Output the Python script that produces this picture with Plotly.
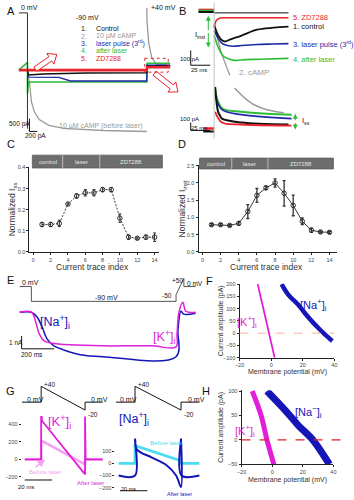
import plotly.graph_objects as go

W, H = 354, 500
FONT = "Liberation Sans, Arial, sans-serif"

BLACK = '#111111'; GRAY = '#9a9a9a'; BLUE = '#1f2aa6'; GREEN = '#2dbb3a'; RED = '#e8232b'
MAG = '#e21fd8'; PINK = '#f5a0ee'; CYAN = '#4adcf0'; NAVY = '#1616b8'; DGRAY = '#333333'

# ---------------- Panel A (time ms, current pA, voltage mV) ----------------
a_t_ctrl = [-225, 0, 25, 400, 1500, 3050, 3060, 3650]
a_i_ctrl = [0, 0, -190, -150, -110, -100, 155, 155]
a_t_laser = [-225, 0, 25, 800, 1100, 3050, 3060, 3650]
a_i_laser = [0, 0, -270, -280, -420, -420, 190, 190]
a_t_after = [-225, 0, 0, 25, 3050, 3060, 3650]
a_i_after = [0, 300, -920, -460, -460, 270, 270]
a_t_zd = [-225, 0, 25, 3050, 3060, 3650]
a_i_zd = [0, 0, 0, 0, 115, 115]
a_t_camp = [0, 50, 100, 175, 300, 550, 925, 1925, 3050, None, 3050, 3060, 3100, 3175, 3300, 3550, 3650]
a_i_camp = [-200, -460, -1230, -1620, -1925, -2150, -2270, -2350, -2390, None, 2500, 1850, 1080, 500, 230, 190, 190]
a_v_t = [-225, 0, 0]
a_v_mv = [0, 0, -90]

# ---------------- Panel B (time ms, current pA) ----------------
b_t_zd = [0, 3, 8, 20, 40, 60, 95]
b_i_zd = [-100, -50, -35, -33, -33, -33, -33]
b_t_ctrl = [0, 5, 10, 14, 20, 35, 55, 76, 95]
b_i_ctrl = [-80, -150, -185, -193, -180, -153, -113, -100, -93]
b_t_laser = [0, 5, 10, 17, 25, 35, 55, 76, 95]
b_i_laser = [-120, -170, -205, -220, -225, -220, -213, -210, -207]
b_t_after = [0, 5, 10, 14, 26, 40, 60, 95]
b_i_after = [-153, -230, -280, -300, -320, -315, -313, -307]
b_t_camp = [0, 5, 9, 16, 20]
b_i_camp = [-87, -180, -267, -367, -420]
b_t_pre = [-20, 0]
b_i_pre_zd, b_i_pre_after, b_i_pre_ctrl = [20, 20], [13, 13], [6, 6]
b_t_zero = [0, 95]
b_i_zero = [0, 0]

b2_t_ctrl = [1.25, 5, 7.5, 10, 35, 95]
b2_i_ctrl = [525, 212, 162, 125, 75, 50]
b2_t_after = [1.25, 5, 11, 35, 67.5, 99]
b2_i_after = [500, 337, 250, 212, 187, 175]
b2_t_laser = [1.25, 10, 35, 99]
b2_i_laser = [425, 237, 175, 125]
b2_t_zd = [1.25, 10, 35, 99]
b2_i_zd = [212, 75, 50, 37]
b2_t_camp = [26, 39, 51, 67.5, 80, 89]
b2_i_camp = [512, 387, 300, 237, 212, 200]
b2_t_pre = [-14, 0]
b2_i_pre_zd, b2_i_pre_ctrl = [0, 0], [-37, -37]

# ---------------- Panel C / D ----------------
trace_index = list(range(1, 15))
c_norm = [0.13, 0.13, 0.135, 0.227, 0.265, 0.28, 0.28, 0.295, 0.295, 0.16, 0.07, 0.065, 0.07, 0.07]
c_err = [0.01, 0.01, 0.015, 0.005, 0.01, 0.015, 0.015, 0.01, 0.01, 0.02, 0.01, 0.005, 0.01, 0.02]
d_norm = [0.79, 0.79, 0.77, 0.83, 1.17, 1.64, 1.86, 2.0, 1.70, 1.35, 0.89, 0.63, 0.58, 0.57]
d_err = [0.03, 0.03, 0.03, 0.05, 0.2, 0.2, 0.05, 0.12, 0.37, 0.3, 0.1, 0.06, 0.03, 0.03]
c_ticks_y = [0.0, 0.1, 0.2, 0.3, 0.4]
d_ticks_y = [0.0, 0.5, 1.0, 1.5, 2.0, 2.5]
idx_ticks = [0, 2, 4, 6, 8, 10, 12, 14]
phase_labels = ["control", "laser", "ZD7288"]

# ---------------- Panel E ----------------
e_t_k = [-72, 0, 30, 48, 78, 120, 240, 438, 738, 888, 894, 906, 930, 948, 1008]
e_i_k = [0, 0, -920, -1690, -2230, -2390, -2540, -2620, -2620, -2700, -1700, 0, 770, 80, 0]
e_t_na = [-72, 0, 36, 66, 96, 138, 198, 300, 438, 888, 900, 918, 936, 1008]
e_i_na = [0, 0, -385, -1155, -2080, -2620, -2930, -3310, -3465, -3465, -1310, 80, -150, -80]
e_v_t = [-72, 0, 0, 888, 888, 936, 936, 1008]
e_v_mv = [0, 0, -90, -90, -50, 50, 0, 0]

# ---------------- Panel F / H (I-V) ----------------
f_k_mv = [-8.5, -6, -3, 0, 2.2]
f_k_pa = [200, 130, 46, -38, -100]
f_na_mv = [6.6, 10.9, 17.1, 21.5, 26.4, 30, 33.8, 38.7]
f_na_pa = [200, 156, 116, 80, 44, 20, -4, -32]
f_ticks_y = [-100, -50, 0, 50, 100, 150, 200]
h_k_mv = [-13, -7.2, -3.4, 1.1]
h_k_pa = [100, 50, 0, -50]
h_na_mv = [-3.4, 8.7, 17, 26.6, 37.4]
h_na_pa = [100, 60, 30, 0, -50]
h_ticks_y = [-50, 0, 50, 100]
mv_ticks = [-20, 0, 20, 40]

# ---------------- Panel G (ramps) ----------------
gl_t_after = [-12, 0, 0, 0.7, 32.1, 32.1, 32.5, 45]
gl_i_after = [0, 0, 560, 440, -170, 490, 0, 0]
gl_t_before = [-12, 0, 0, 4.3, 32.1, 32.1, 45]
gl_i_before = [0, 0, 215, 180, -56, 0, 0]
gl_v_t = [-14, 0, 0, 32.1, 32.1, 45]
gl_v_mv = [0, 0, 40, -20, 0, 0]
gl_ticks = [-200, 0, 200, 400]
gr_t_before = [-12, 0, 0, 32.9, 32.9, 47]
gr_i_before = [0, 0, 146, 24, 0, 0]
gr_t_after = [-12, 0, 0, 1.4, 12, 23, 30, 33.6, 33.6, 34, 47]
gr_i_after = [-100, -100, 200, 114, 50, -15, -100, -195, 200, -100, -100]
gr_v_t = [-14, 0, 0, 33.6, 33.6, 47]
gr_v_mv = [0, 0, 40, -20, 0, 0]
gr_ticks = [-200, -100, 0, 100]

# ---------------- subplot geometry (pixel boxes) ----------------
SPEC = {
    1: dict(x=(14, 175), xr=(-225, 3800), y=(5, 135), yr=(-2580, 2425)),
    2: dict(x=(14, 175), xr=(-225, 3800), y=(5, 135), yr=(-96, 3.85)),
    3: dict(x=(175, 354), xr=(-48.75, 175), y=(0, 78), yr=(-453, 66.7)),
    4: dict(x=(175, 354), xr=(-48.75, 175), y=(80, 137), yr=(-125, 587.5)),
    5: dict(x=(25, 158), xr=(-0.45, 14.56), y=(166, 252), yr=(0, 0.402)),
    6: dict(x=(198, 340), xr=(-0.43, 14.86), y=(164, 252), yr=(0, 2.52)),
    7: dict(x=(0, 200), xr=(-162, 1038), y=(268, 365), yr=(-4004, 3465)),
    8: dict(x=(0, 200), xr=(-162, 1038), y=(268, 310), yr=(-138, 114)),
    9: dict(x=(240, 337), xr=(-20, 40), y=(284, 359), yr=(-100, 202)),
    10: dict(x=(17, 105), xr=(-14.3, 48.6), y=(418, 485), yr=(-260, 497)),
    11: dict(x=(17, 105), xr=(-14.3, 48.6), y=(380, 418), yr=(-35, 60)),
    12: dict(x=(113, 200), xr=(-14.3, 47.8), y=(438, 495), yr=(-236, 228)),
    13: dict(x=(113, 200), xr=(-14.3, 47.8), y=(380, 418), yr=(-35, 60)),
    14: dict(x=(242, 336), xr=(-20, 40), y=(392, 467), yr=(-50, 101.5)),
}


def PX(x):
    return x / W


def PY(y):
    return 1 - y / H


def d2p(i, xv, yv):
    s = SPEC[i]
    x0, x1 = s['x']; r0, r1 = s['xr']
    y0, y1 = s['y']; q0, q1 = s['yr']
    return (x0 + (xv - r0) / (r1 - r0) * (x1 - x0), y1 - (yv - q0) / (q1 - q0) * (y1 - y0))


def ref(i):
    return ('x', 'y') if i == 1 else (f'x{i}', f'y{i}')


fig = go.Figure()


def line(i, xs, ys, color, width=1.2, dash=None, shape='linear'):
    xr, yr = ref(i)
    fig.add_trace(go.Scatter(x=xs, y=ys, xaxis=xr, yaxis=yr, mode='lines',
                             line=dict(color=color, width=width, dash=dash, shape=shape),
                             hoverinfo='skip', showlegend=False))


# A
line(2, a_v_t, a_v_mv, DGRAY, 1)
line(1, a_t_camp, a_i_camp, GRAY, 1.3)
line(1, a_t_after, a_i_after, GREEN, 1.6)
line(1, a_t_laser, a_i_laser, BLUE, 1.4)
line(1, a_t_ctrl, a_i_ctrl, BLACK, 1.4)
line(1, a_t_zd, a_i_zd, RED, 2.6)
# B top
line(3, b_t_zero, b_i_zero, BLACK, 1)
line(3, b_t_pre, b_i_pre_zd, RED, 2.5)
line(3, b_t_pre, b_i_pre_after, GREEN, 2.5)
line(3, b_t_pre, b_i_pre_ctrl, BLACK, 2)
line(3, b_t_camp, b_i_camp, GRAY, 1.3)
line(3, b_t_after, b_i_after, GREEN, 1.6, shape='spline')
line(3, b_t_laser, b_i_laser, BLUE, 1.6, shape='spline')
line(3, b_t_ctrl, b_i_ctrl, BLACK, 1.8, shape='spline')
line(3, b_t_zd, b_i_zd, RED, 1.6, shape='spline')
# B bottom
line(4, b2_t_pre, b2_i_pre_zd, RED, 2.5)
line(4, b2_t_pre, b2_i_pre_ctrl, BLACK, 2)
line(4, b2_t_camp, b2_i_camp, GRAY, 1.5, shape='spline')
line(4, b2_t_after, b2_i_after, GREEN, 2, shape='spline')
line(4, b2_t_laser, b2_i_laser, BLUE, 1.6, shape='spline')
line(4, b2_t_ctrl, b2_i_ctrl, BLACK, 2, shape='spline')
line(4, b2_t_zd, b2_i_zd, RED, 1.8, shape='spline')

# C, D
for i, vals, errs, dash, ew in [(5, c_norm, c_err, '2px,1.5px', 1), (6, d_norm, d_err, None, 1.3)]:
    xr, yr = ref(i)
    fig.add_trace(go.Scatter(x=trace_index, y=vals, xaxis=xr, yaxis=yr, mode='lines+markers',
                             line=dict(color='#222222', width=0.9, dash=dash),
                             marker=dict(symbol='circle-open', size=4.5, color='#222222', line=dict(width=0.9)),
                             error_y=dict(type='data', array=errs, color='#333333', thickness=ew, width=1.5),
                             hoverinfo='skip', showlegend=False))

# E
line(8, e_v_t, e_v_mv, '#555555', 1)
line(7, e_t_na, e_i_na, NAVY, 1.5, shape='spline')
line(7, e_t_k, e_i_k, MAG, 1.5, shape='spline')

# F
line(9, f_k_mv, f_k_pa, MAG, 1.8)
line(9, f_na_mv, f_na_pa, NAVY, 4.5, shape='spline')

# G left
line(11, gl_v_t, gl_v_mv, BLACK, 1)
line(10, gl_t_before, gl_i_before, PINK, 2.6)
line(10, gl_t_after, gl_i_after, MAG, 1.8)
# G right
line(13, gr_v_t, gr_v_mv, BLACK, 1)
line(12, gr_t_before, gr_i_before, CYAN, 2.8)
line(12, gr_t_after, gr_i_after, NAVY, 2, shape='spline')

# H
line(14, h_k_mv, h_k_pa, MAG, 5, shape='spline')
line(14, h_na_mv, h_na_pa, NAVY, 7, shape='spline')

# ---------------- axes ----------------
layout_axes = {}
TF = dict(family=FONT, size=5.5, color='#444444')
visible_cfg = {
    5: dict(xt=idx_ticks, yt=c_ticks_y, yfmt='.1f'),
    6: dict(xt=idx_ticks, yt=d_ticks_y, yfmt='.1f'),
    9: dict(xt=mv_ticks, yt=f_ticks_y, yfmt=None),
    14: dict(xt=mv_ticks, yt=h_ticks_y, yfmt=None),
}
for i, s in SPEC.items():
    xk = 'xaxis' if i == 1 else f'xaxis{i}'
    yk = 'yaxis' if i == 1 else f'yaxis{i}'
    xr, yr = ref(i)
    xa = dict(domain=[PX(s['x'][0]), PX(s['x'][1])], range=list(s['xr']), anchor=yr,
              fixedrange=True, showgrid=False, zeroline=False)
    ya = dict(domain=[PY(s['y'][1]), PY(s['y'][0])], range=list(s['yr']), anchor=xr,
              fixedrange=True, showgrid=False, zeroline=False)
    if i in visible_cfg:
        c = visible_cfg[i]
        for a, tv in ((xa, c['xt']), (ya, c['yt'])):
            a.update(visible=True, showline=True, linecolor='#222222', linewidth=1,
                     ticks='outside', ticklen=2, tickwidth=1, tickcolor='#222222',
                     tickvals=tv, tickfont=TF)
        if c['yfmt']:
            ya['tickformat'] = c['yfmt']
    elif i in (10, 12):
        xa['visible'] = False
        ya.update(visible=True, showline=False, ticks='outside', ticklen=2, tickwidth=1,
                  tickcolor='#222222', tickvals=gl_ticks if i == 10 else gr_ticks, tickfont=TF)
    else:
        xa['visible'] = False
        ya['visible'] = False
    layout_axes[xk] = xa
    layout_axes[yk] = ya

fig.update_layout(**layout_axes)

# ---------------- annotations & shapes ----------------
ann = []
shapes = []


def txt(s, x, y, size=7, color=BLACK, xanchor='center', angle=0):
    ann.append(dict(text=s, x=PX(x), y=PY(y), xref='paper', yref='paper', showarrow=False,
                    xanchor=xanchor, yanchor='middle', textangle=angle,
                    font=dict(family=FONT, size=size, color=color)))


def seg(x0, y0, x1, y1, color=BLACK, width=1, dash=None):
    shapes.append(dict(type='line', xref='paper', yref='paper', x0=PX(x0), y0=PY(y0), x1=PX(x1), y1=PY(y1),
                       line=dict(color=color, width=width, dash=dash)))


def arrow_ann(xt, yt, ax, ay, color, width=1):
    ann.append(dict(text='', x=PX(xt), y=PY(yt), xref='paper', yref='paper', showarrow=True,
                    ax=ax, ay=ay, arrowhead=2, arrowsize=1, arrowwidth=width, arrowcolor=color))


def scalebar(i, t0, i0, dt, di, tcol=BLACK):
    xa, ya = d2p(i, t0, i0)
    xb, _ = d2p(i, t0 + dt, i0)
    _, yb = d2p(i, t0, i0 + di)
    seg(xa, ya, xb, ya, tcol)
    seg(xa, ya, xa, yb, tcol)
    return xa, ya, xb, yb


def hollow_arrow(tx, ty, hx, hy, sw=2.6, hw=6.5, hl=8, color=RED):
    import math
    L = math.hypot(hx - tx, hy - ty)
    dx, dy = (hx - tx) / L, (hy - ty) / L
    nx, ny = -dy, dx
    Nx, Ny = hx - dx * hl, hy - dy * hl
    pts = [(tx + nx * sw, ty + ny * sw), (Nx + nx * sw, Ny + ny * sw), (Nx + nx * hw, Ny + ny * hw), (hx, hy),
           (Nx - nx * hw, Ny - ny * hw), (Nx - nx * sw, Ny - ny * sw), (tx - nx * sw, ty - ny * sw)]
    path = 'M ' + ' L '.join(f'{PX(a):.5f},{PY(b):.5f}' for a, b in pts) + ' Z'
    shapes.append(dict(type='path', xref='paper', yref='paper', path=path,
                       line=dict(color=color, width=1), fillcolor='rgba(255,255,255,0.9)'))


# panel letters
for L, x, y in [('A', 6, 8), ('B', 182, 8), ('C', 6, 143), ('D', 181, 143), ('E', 6, 280),
                ('F', 209, 281), ('G', 6, 393), ('H', 206, 393)]:
    txt(L, x, y, 11)

# ---- A texts
txt('0 mV', 14, 5, 7, xanchor='left')
txt('+40 mV', 147, 5, 7, xanchor='left')
txt('-90 mV', 84, 15, 7)
legend_rows = [('1.', 'Control', BLACK), ('2.', '10 µM cAMP', GRAY), ('3.', 'laser pulse (3<sup>rd</sup>)', BLUE),
               ('4.', 'after laser', GREEN), ('5.', 'ZD7288', RED)]
for k, (n, s, col) in enumerate(legend_rows):
    yy = 26 + 7.5 * k
    txt(n, 76, yy, 7, col, 'left')
    txt(s, 91, yy, 7, col, 'left')
txt('10 µM cAMP (before laser)', 98, 124, 7, GRAY)
xa, ya, xb, yb = scalebar(1, 50, -2387, 200, 500)
txt('500 pA', 2, 122, 6.5, xanchor='left')
txt('200 pA', 31, 135, 6.5)
hollow_arrow(31, 67, 53, 52)
hollow_arrow(153, 71, 177, 90)
shapes.append(dict(type='rect', xref='paper', yref='paper', x0=PX(143), x1=PX(167), y0=PY(56), y1=PY(70),
                   line=dict(color=RED, width=1, dash='dot')))

# ---- B texts
x0b, _ = d2p(3, 0, 0)
shapes.append(dict(type='line', xref='paper', yref='paper', x0=PX(x0b), x1=PX(x0b), y0=PY(0), y1=PY(137),
                   line=dict(color='#b8c8b8', width=1)))
for s, yy, col in [('5. ZD7288', 15, RED), ('1. control', 24, BLACK), ('3. laser pulse (3<sup>rd</sup>)', 42, BLUE),
                   ('4. after laser', 57, GREEN)]:
    txt(s, 293, yy, 7.5, col, 'left')
txt('2. cAMP', 237, 70, 8, GRAY, 'left')
txt('I<sub>inst</sub>', 192, 32, 7.5, xanchor='left')
arrow_ann(208, 13, 0, 16, GREEN)
arrow_ann(208, 45, 0, -16, GREEN)
scalebar(3, -30, -353, 25, 100)
txt('100 pA', 177, 57, 6, xanchor='left')
txt('25 ms', 198, 68, 6)
scalebar(4, -30, -25, 25, 100)
txt('100 pA', 177, 117, 6, xanchor='left')
txt('25 ms', 198, 127, 6)
txt('I<sub>ss</sub>', 302, 119, 7.5, xanchor='left')
arrow_ann(297, 112, 0, 8, GREEN)
arrow_ann(297, 128, 0, -8, GREEN)

# ---- C / D header bars and titles
for (x0, x1, y0, y1, b1, b2) in [(28, 161, 154, 167, 59, 97), (199, 336, 157, 168, 232, 269)]:
    shapes.append(dict(type='rect', xref='paper', yref='paper', x0=PX(x0), x1=PX(x1), y0=PY(y1), y1=PY(y0),
                       fillcolor='#6d6d6d', line=dict(color='#5a5a5a', width=0.8)))
    for b in (b1, b2):
        seg(b, y0, b, y1, '#cfcfcf', 0.8)
    for lab, (u, v) in zip(phase_labels, [(x0, b1), (b1, b2), (b2, x1)]):
        txt(lab, (u + v) / 2, (y0 + y1) / 2 + 0.5, 6, '#e6e6e6')
txt('Current trace index', 90, 267, 8.5, '#333333')
txt('Current trace index', 268, 267, 8.5, '#333333')
txt('Normalized I<sub>ss</sub>', 8, 209, 8.5, '#333333', angle=-90)
txt('Normalized I<sub>inst</sub>', 182, 208, 8.5, '#333333', angle=-90)

# ---- E
txt('0 mV', 15, 283, 7, xanchor='left')
txt('-90 mV', 104, 298, 7)
txt('-50', 166, 296, 6.5)
txt('+50', 176, 281, 6.5)
txt('0 mV', 184, 284, 6.5, xanchor='left')
txt('[Na<sup>+</sup>]<sub>i</sub>', 51, 323, 12.5, NAVY)
txt('[K<sup>+</sup>]<sub>i</sub>', 163, 338, 12.5, MAG)
scalebar(7, -60, -2850, 200, 1000)
txt('1 nA', 2, 344, 6.5, xanchor='left')
txt('200 ms', 28, 356, 6.5)

# ---- F
xz0, yz = d2p(9, -20, 0)
xz1, _ = d2p(9, 40, 0)
seg(xz0, yz, xz1, yz, '#f3b49c', 1, 'dash')
txt('[Na<sup>+</sup>]<sub>i</sub>', 316, 306, 11, NAVY)
txt('[K<sup>+</sup>]<sub>i</sub>', 248, 323, 11, MAG)
txt('Current amplitude (pA)', 221, 322, 7, '#333333', angle=-90)
txt('Membrane potential (mV)', 289, 373, 7, '#333333')

# ---- G
txt('0 mV', 20, 401, 7, xanchor='left')
txt('+40', 38, 386, 6.5, xanchor='left')
txt('-20', 83, 416, 6.5, xanchor='left')
txt('0 mV', 86, 401, 7, xanchor='left')
txt('[K<sup>+</sup>]<sub>i</sub>', 56, 424, 13, MAG)
txt('Before laser', 22, 475, 6, PINK, 'left')
arrow_ann(41, 462, -11, 9, PINK, 1.5)
txt('After laser', 87, 486, 6, MAG)
scalebar(10, -12, -235, 20, 0)
txt('20 ms', 21, 490, 6)
txt('0 mV', 116, 401, 7, xanchor='left')
txt('+40', 134, 386, 6.5, xanchor='left')
txt('-20', 181, 417, 6.5, xanchor='left')
txt('0 mV', 185, 401, 7, xanchor='left')
txt('[Na<sup>+</sup>]<sub>i</sub>', 132, 421, 12.5, NAVY)
txt('Before laser', 146, 445, 6, CYAN, 'left')
txt('After laser', 179, 497, 5.5, NAVY)
scalebar(12, -11, -225, 20, 0)
txt('20 ms', 126, 492, 5.5)

# ---- H
shapes.append(dict(type='line', xref='paper', yref='paper', x0=PX(242), x1=PX(346),
                   y0=PY(d2p(14, 0, 0)[1]), y1=PY(d2p(14, 0, 0)[1]), line=dict(color='#e0202a', width=1.2, dash='dash')))
txt('[Na<sup>−</sup>]<sub>i</sub>', 311, 414, 11, NAVY)
txt('[K<sup>+</sup>]<sub>i</sub>', 246, 433, 11, MAG)
txt('Current amplitude (pA)', 221, 430, 7, '#333333', angle=-90)
txt('Membrane potential (mV)', 289, 483, 7, '#333333')

fig.update_layout(width=W, height=H, autosize=False, margin=dict(l=0, r=0, t=0, b=0),
                  paper_bgcolor='white', plot_bgcolor='rgba(0,0,0,0)', showlegend=False,
                  font=dict(family=FONT), annotations=ann, shapes=shapes)

fig.write_html("out.html")
